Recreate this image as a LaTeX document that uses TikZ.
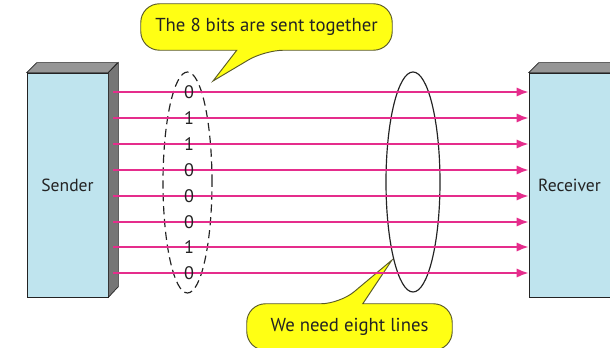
\documentclass[tikz,border=0pt]{standalone}
\usepackage{fontspec}
\setmainfont{PT Sans}
\usepackage{xcolor}
\usepackage{tikz}
\usetikzlibrary{arrows.meta,positioning,calc,shapes.geometric,backgrounds}

\definecolor{facecol}{RGB}{191,228,238}
\definecolor{sidecol}{RGB}{118,118,118}
\definecolor{topcol}{RGB}{150,150,150}
\definecolor{wirecol}{RGB}{229,45,140}
\definecolor{notecol}{RGB}{255,255,20}
\definecolor{noteedge}{RGB}{90,90,40}
\definecolor{inkcol}{RGB}{35,35,35}

\begin{document}
\begin{tikzpicture}[
    x=0.03cm, y=-0.03cm,
    font=\fontsize{15}{15}\selectfont,
    text=inkcol,
    >={Latex[length=0.36cm,width=0.28cm]},
    face/.style={
        draw=inkcol,
        line width=0.6pt,
        rectangle,
        minimum width=2.43cm,
        minimum height=6.72cm,
        fill=facecol,
    },
    sideface/.style={
        draw=inkcol,
        line width=0.6pt,
        fill=#1,
    },
    wire/.style={
        ->,
        draw=wirecol,
        line width=1.7pt,
    },
    bitgroup/.style={
        draw=inkcol,
        ellipse,
        line width=1pt,
        minimum width=#1,
    },
    note/.style={
        rectangle,
        minimum height=1.38cm,
        inner sep=0pt,
        font=\fontsize{16}{16}\selectfont,
    },
    callout/.style={
        draw=noteedge,
        line width=0.8pt,
        fill=notecol,
    },
    bit/.style={
        font=\fontsize{15.5}{15.5}\selectfont,
        text=inkcol,
    }
]
\useasboundingbox (0,0) rectangle (610,348);

% =========================================================
% Sender and receiver blocks
% =========================================================
\node[face] (sender) at (67.5,185) {Sender};
\node[face] (receiver) at (569.5,185) {Receiver};

% top and side faces
\draw[sideface=topcol] (sender.north west) -- ++(10,-10) -- ++(81,0) -- (sender.north east) -- cycle;
\draw[sideface=sidecol] (sender.north east) -- ++(10,-10) -- ++(0,224) -- (sender.south east) -- cycle;
\draw[sideface=topcol] (receiver.north west) -- ++(10,-10) -- ++(81,0) -- (receiver.north east) -- cycle;

% groups
\node[bitgroup=1.47cm, dashed, dash pattern=on 7pt off 4pt, minimum height=6.63cm] (bits) at (187.5,182.5) {};
\node[bitgroup=1.62cm, minimum height=6.6cm] (lines) at (413,182) {};

% =========================================================
% Eight parallel lines
% =========================================================
\coordinate (s0) at (113,92);
\coordinate (s1) at (113,118);
\coordinate (s2) at (113,144);
\coordinate (s3) at (113,170);
\coordinate (s4) at (113,196);
\coordinate (s5) at (113,222);
\coordinate (s6) at (113,247);
\coordinate (s7) at (113,273);
\foreach \i in {0,...,7}{
    \draw[wire] (s\i) -- (receiver.west |- s\i);
}

% bits on the lines
\node[bit] (b0) at (189,92) {0};
\node[bit] (b1) at (189,118) {1};
\node[bit] (b2) at (189,144) {1};
\node[bit] (b3) at (189,170) {0};
\node[bit] (b4) at (189,196) {0};
\node[bit] (b5) at (189,222) {0};
\node[bit] (b6) at (189,247) {1};
\node[bit] (b7) at (189,273) {0};

% =========================================================
% Callouts
% =========================================================
\node[note, minimum width=7.53cm] (together) at (266.5,27) {The 8 bits are sent together};
\node[note, minimum width=6.15cm] (eight) at (349.5,327) {We need eight lines};

\coordinate (tip1) at (213,81);
\coordinate (tip2) at (392,260);

\begin{pgfonlayer}{background}
\draw[callout] ($(together.south west)+(96,0)$) [rounded corners=16]
    -- (together.south west) -- (together.north west)
    -- (together.north east) -- (together.south east)
    -- ($(together.south west)+(124,0)$) [sharp corners] -- (tip1) -- cycle;
\draw[callout] ($(eight.north west)+(116,0)$) [rounded corners=16]
    -- (eight.north east) -- (eight.south east)
    -- (eight.south west) -- (eight.north west)
    -- ($(eight.north west)+(93,0)$) [sharp corners] -- (tip2) -- cycle;
\end{pgfonlayer}

\end{tikzpicture}
\end{document}
